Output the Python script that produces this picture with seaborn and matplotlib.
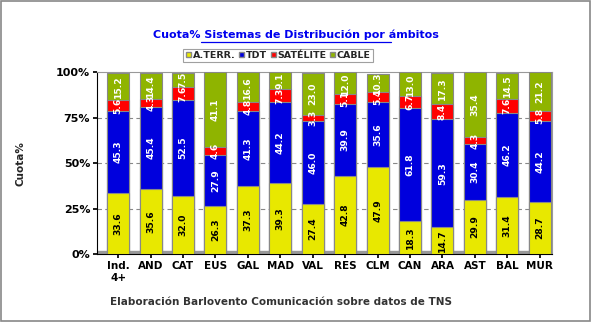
import matplotlib
matplotlib.use("Agg")
import matplotlib.pyplot as plt
import seaborn as sns
import numpy as np
import pandas as pd
from matplotlib.patches import Rectangle, Patch

categories = ["Ind.\n4+", "AND", "CAT", "EUS", "GAL", "MAD", "VAL", "RES", "CLM", "CAN", "ARA", "AST", "BAL", "MUR"]
aterr =    [33.6, 35.6, 32.0, 26.3, 37.3, 39.3, 27.4, 42.8, 47.9, 18.3, 14.7, 29.9, 31.4, 28.7]
tdt =      [45.3, 45.4, 52.5, 27.9, 41.3, 44.2, 46.0, 39.9, 35.6, 61.8, 59.3, 30.4, 46.2, 44.2]
satelite = [5.6, 4.3, 7.6, 4.6, 4.8, 7.3, 3.3, 5.1, 5.4, 6.7, 8.4, 4.3, 7.6, 5.8]
cable =    [15.2, 14.4, 7.5, 41.1, 16.6, 9.1, 23.0, 12.0, 10.3, 13.0, 17.3, 35.4, 14.5, 21.2]

series_names = ["A.TERR.", "TDT", "SATÉLITE", "CABLE"]
series = [aterr, tdt, satelite, cable]
colors = ["#E8E800", "#0000DD", "#FF0000", "#8FB400"]
text_colors = ["black", "white", "white", "white"]

sns.set_theme(style="white")
plt.rcParams['font.family'] = ['DejaVu Sans']

fig = plt.figure(figsize=(5.92, 3.22), dpi=100)
fig.patch.set_facecolor("white")
ax = fig.add_axes([0.164, 0.211, 0.768, 0.565])

cum = np.zeros(len(categories))
cums = []
for s in series:
    cum = cum + np.array(s)
    cums.append(cum.copy())

# draw from tallest cumulative to shortest (stacking trick)
for i in range(len(series) - 1, -1, -1):
    d = pd.DataFrame({"cat": categories, "v": cums[i]})
    sns.barplot(data=d, x="cat", y="v", color=colors[i], width=0.68,
                edgecolor="#888888", linewidth=0.8, saturation=1, ax=ax, zorder=3)

# labels
for i, s in enumerate(series):
    base = cums[i] - np.array(s)
    for j, v in enumerate(s):
        ax.text(j, base[j] + v / 2, f"{v:.1f}", rotation=90, ha="center", va="center",
                fontsize=6.6, fontweight="bold", color=text_colors[i], zorder=5)

ax.set_ylim(0, 100)
ax.set_xlim(-0.65, len(categories) - 0.63)
ax.set_yticks([0, 25, 50, 75, 100])
ax.set_yticklabels(["0%", "25%", "50%", "75%", "100%"], fontsize=8, fontweight="bold")
ax.set_xticks(range(len(categories)))
ax.set_xticklabels(categories, fontsize=7.5, fontweight="bold")
ax.tick_params(axis="both", length=3, pad=2, colors="black")
ax.tick_params(axis="x", direction="out", bottom=True)
ax.tick_params(axis="y", direction="out", left=True)
for y in [25, 50, 75]:
    ax.axhline(y, color="#888888", linestyle=(0, (4, 3)), linewidth=0.8, zorder=1)
for sp in ["top", "right"]:
    ax.spines[sp].set_color("#999999")
    ax.spines[sp].set_linewidth(0.8)
for sp in ["left", "bottom"]:
    ax.spines[sp].set_color("black")
    ax.spines[sp].set_linewidth(0.8)
ax.set_xlabel("")
ax.set_ylabel("Cuota%", fontsize=7.5, fontweight="bold", labelpad=22)
ax.add_patch(Rectangle((-0.65, 0), len(categories) + 0.1, 1.5, color="#999999", zorder=2))

# legend
handles = [Patch(facecolor=c, edgecolor="#888888", label=n) for c, n in zip(colors, series_names)]
leg = fig.legend(handles=handles, loc="center", bbox_to_anchor=(0.47, 0.828), ncol=4,
                 frameon=True, handlelength=0.55, handleheight=0.55,
                 handletextpad=0.15, columnspacing=0.4, borderpad=0.25, fancybox=False,
                 prop={"weight": "bold", "size": 6.8})
leg.get_frame().set_edgecolor("#888888")
leg.get_frame().set_linewidth(0.8)

fig.text(0.5, 0.893, "Cuota% Sistemas de Distribución por ámbitos", ha="center", va="center",
         fontsize=8, fontweight="bold", color="#0000EE")
fig.add_artist(plt.Line2D([0.339, 0.661], [0.869, 0.869], color="#0000EE", linewidth=0.9))

fig.text(0.475, 0.062, "Elaboración Barlovento Comunicación sobre datos de TNS", ha="center",
         va="center", fontsize=7.5, fontweight="bold", color="#333333")

fig.add_artist(Rectangle((0.002, 0.003), 0.995, 0.993, fill=False, edgecolor="#888888",
                         linewidth=1.2, transform=fig.transFigure))

fig.savefig("out.png", dpi=100)
